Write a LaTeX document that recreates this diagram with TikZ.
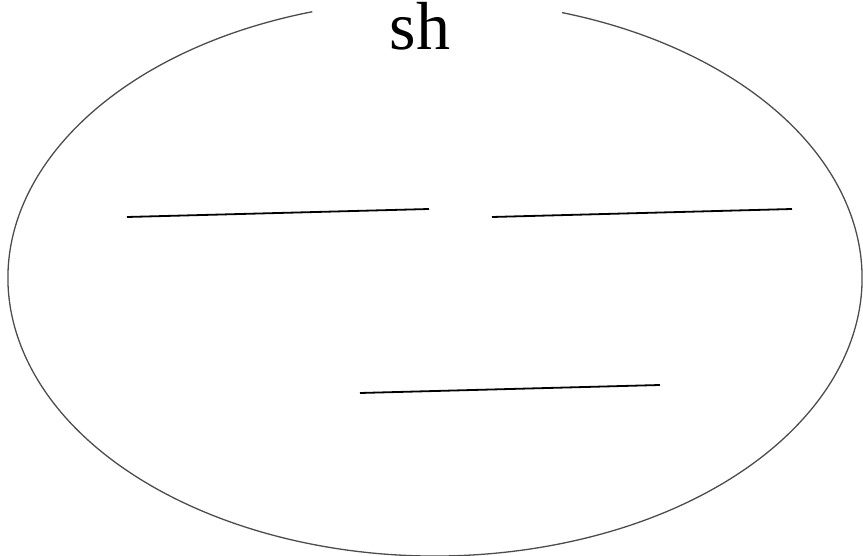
\documentclass[tikz,border=0pt]{standalone}
\usepackage{fontspec}
\setmainfont{Liberation Serif}
\usepackage{tikz}
\usetikzlibrary{positioning}

\begin{document}
\begin{tikzpicture}[x=1pt,y=1pt,
			rim/.style={draw=black!70,line width=1.3pt},
			bar/.style={draw=black,line width=1.8pt},
			title node/.style={font=\fontsize{68}{68}\selectfont,inner sep=0pt,anchor=base}]
			
			\useasboundingbox (0,0) rectangle (863,555);
			\coordinate (O) at (435,277);
			\draw[rim] (O) ++(106.7:427 and 278) arc[start angle=106.7,end angle=432.7,x radius=427,y radius=278];
			\node[title node] (T) at (420,505) {sh};
			
			\coordinate (A1) at (127,338);
			\coordinate (A2) at (429,346);
			\coordinate (B1) at (492,338);
			\coordinate (B2) at (792,346);
			\coordinate (C1) at (360,162);
			\coordinate (C2) at (660,170);
			\path[bar]
			(A1) edge (A2)
			(B1) edge (B2)
			(C1) edge (C2);
			
		\end{tikzpicture}
\end{document}
